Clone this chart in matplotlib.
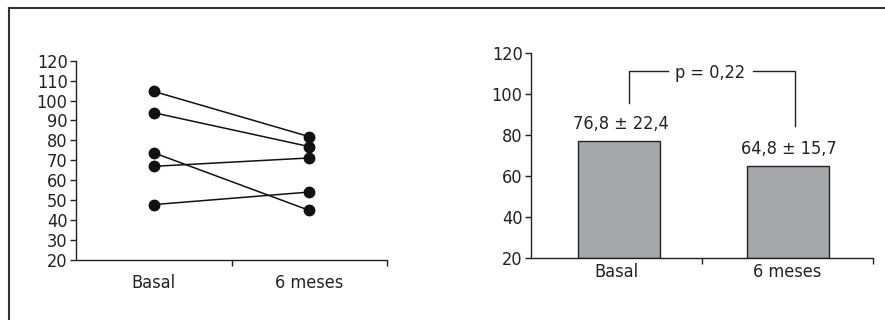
import matplotlib.pyplot as plt
from matplotlib.lines import Line2D
from matplotlib.ticker import FixedLocator

plt.rcParams['font.family'] = ['DejaVu Sans']
plt.rcParams['font.stretch'] = 'condensed'

# datos individuales (pacientes) y medias
grupos = ['Basal', '6 meses']
basal = [104.6, 93.9, 73.8, 67.0, 47.8]
seis_meses = [81.9, 76.9, 44.9, 71.2, 54.1]
medias = [76.8, 64.8]
desv = [22.4, 15.7]
p_valor = '0,22'

ticks_izq = list(range(20, 121, 10))
ticks_der = list(range(20, 121, 20))

fig = plt.figure(figsize=(8.85, 3.2), dpi=100)

# marco de la figura
fig.add_artist(Line2D([0.0102, 0.0102], [0.975, 0.0], transform=fig.transFigure,
                      color='#333333', lw=1.5))
fig.add_artist(Line2D([0.0102, 1.0], [0.975, 0.975], transform=fig.transFigure,
                      color='#333333', lw=1.5))

def estilo_ejes(ax, pad_x):
    for s in ['top', 'right']:
        ax.spines[s].set_visible(False)
    for s in ['left', 'bottom']:
        ax.spines[s].set_color('#222222')
        ax.spines[s].set_linewidth(1.0)
    ax.set_xlim(-0.5, 1.5)
    ax.set_ylim(20, 120)
    ax.set_xticks([0, 1])
    ax.set_xticklabels(grupos)
    ax.xaxis.set_minor_locator(FixedLocator([0.5, 1.5]))
    ax.tick_params(axis='x', which='major', length=0, pad=pad_x, labelsize=13,
                   colors='#222222')
    ax.tick_params(axis='x', which='minor', length=4, width=1.0, color='#222222')
    ax.tick_params(axis='y', length=4, width=1.0, pad=2, labelsize=13,
                   colors='#222222')

# panel izquierdo: evolución individual
ax1 = fig.add_axes([0.0859, 0.1875, 0.3514, 0.6228])
estilo_ejes(ax1, 10)
ax1.set_yticks(ticks_izq)
for b, s in zip(basal, seis_meses):
    ax1.plot([0, 1], [b, s], color='#111111', lw=1.1, marker='o', ms=7.5,
             clip_on=False)

# panel derecho: medias
ax2 = fig.add_axes([0.6, 0.1947, 0.3864, 0.6406])
estilo_ejes(ax2, 4)
ax2.set_yticks(ticks_der)
barras = ax2.bar([0.015, 1.003], [m - 20 for m in medias], bottom=20, width=0.48,
                 color='#a7a8ab', edgecolor='#222222', linewidth=1.0)
for bar, m, d in zip(barras, medias, desv):
    ax2.annotate(f'{m:.1f} ± {d:.1f}'.replace('.', ','),
                 (bar.get_x() + bar.get_width() / 2, m),
                 xytext=(1, 6), textcoords='offset points',
                 ha='center', va='bottom', fontsize=13, color='#222222')

# corchete con el valor p
y_corchete = 110.9
kw = dict(color='#222222', lw=1.0)
ax2.plot([0.074, 0.074, 0.30], [95.6, y_corchete, y_corchete], **kw)
ax2.plot([0.80, 1.044, 1.044], [y_corchete, y_corchete, 84.4], **kw)
ax2.text(0.55, y_corchete - 0.8, f'p = {p_valor}', ha='center', va='center',
         fontsize=13, color='#222222')

fig.savefig('out.png', dpi=100)
